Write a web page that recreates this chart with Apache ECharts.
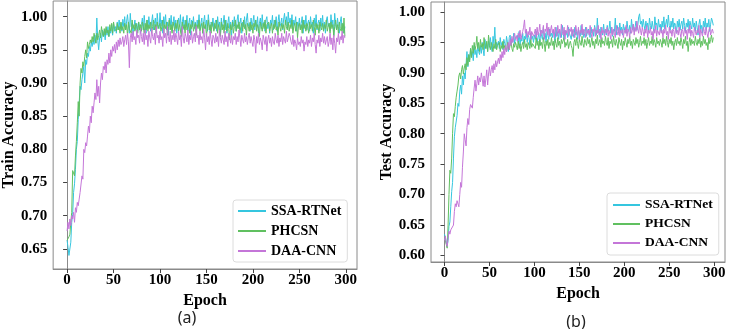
<!DOCTYPE html>
<html>
<head>
<meta charset="utf-8">
<script src="https://cdn.jsdelivr.net/npm/echarts@6/dist/echarts.min.js"></script>
<style>
  html, body { margin: 0; padding: 0; background: #fff; }
  #chart { width: 730px; height: 329px; }
</style>
</head>
<body>
<div id="chart"></div>
<script>
// accuracy values in thousandths, one per epoch
const names = ['SSA-RTNet', 'PHCSN', 'DAA-CNN'];
const colors = ['#35c6df', '#60c060', '#c476d8'];

const trainSSA = [
  663,652,640,638,660,690,702,735,748,770,800,812,845,870,895,890,905,915,925,900,
  935,928,945,940,955,948,962,955,965,958,972,960,998,965,950,968,975,962,980,970,
  978,965,982,972,985,970,980,975,988,972,990,978,985,975,992,980,995,982,990,978,
  996,985,1000,980,992,1003,988,975,1005,985,990,972,985,995,980,990,978,992,985,975,
  988,998,980,1002,985,975,995,982,1000,985,978,992,1003,980,990,998,975,1005,988,982,
  1006,985,995,975,1000,988,1003,980,992,972,998,985,1002,978,990,1000,982,995,975,990,
  998,985,1003,975,992,1000,980,995,985,1002,978,990,998,972,995,985,1000,982,992,978,
  995,985,1003,980,990,998,975,992,1002,982,995,978,1003,988,975,992,985,998,980,990,
  995,978,1000,985,992,972,998,985,990,1002,980,995,975,990,1000,982,992,970,995,985,
  1000,988,978,995,1003,982,990,998,975,992,985,1000,980,995,1005,985,990,978,998,985,
  992,1002,980,995,985,1000,975,990,998,982,1003,985,992,978,995,1000,982,990,975,995,
  988,1002,980,995,985,1000,978,992,1003,985,990,998,980,995,1005,988,1000,982,1007,990,
  998,985,1003,980,995,988,1000,978,992,985,998,982,990,1000,975,995,985,1002,980,990,
  995,978,1000,985,992,975,998,985,1003,980,990,995,978,998,985,1002,980,992,975,995,
  1000,985,990,978,1003,985,995,972,1005,988,980,998,985,975,992,1000,980,990,975,985
];
const trainPHCSN = [
  663,665,668,672,690,705,768,765,760,790,812,840,872,850,900,922,915,932,925,940,
  950,938,962,952,958,965,960,970,962,975,968,960,975,965,972,980,968,985,975,970,
  982,972,985,975,980,970,988,978,990,975,992,982,985,978,990,980,985,975,992,980,
  985,975,990,980,988,972,992,982,985,975,995,982,988,978,990,985,975,992,980,988,
  978,992,985,975,990,980,995,978,988,982,992,975,985,995,980,988,975,992,982,985,
  990,978,985,995,975,988,982,992,972,985,995,980,988,975,992,985,978,990,982,995,
  978,988,985,970,992,982,988,975,995,980,985,990,975,988,982,993,978,985,990,972,
  988,982,995,978,985,990,975,992,982,988,970,985,995,980,988,975,992,985,978,990,
  982,995,975,988,985,970,992,980,988,975,995,985,978,990,982,965,988,980,992,975,
  985,995,978,988,982,992,975,985,990,978,995,982,988,972,990,985,978,992,980,988,
  975,990,985,995,978,988,982,970,992,985,978,990,982,995,975,988,985,992,978,985,
  990,975,988,982,995,980,985,972,992,985,978,990,982,988,975,995,985,980,992,978,
  988,982,995,975,985,990,978,992,968,985,990,980,988,975,995,982,988,978,990,985,
  975,992,982,988,978,995,985,972,990,982,988,975,992,985,980,990,978,988,982,995,
  978,985,990,975,992,982,988,970,985,995,980,988,975,992,982,978,990,975,998,970
];
const trainDAA = [
  677,690,680,695,685,700,695,705,690,712,705,720,715,725,735,735,760,755,800,795,
  810,805,820,835,825,850,840,865,855,870,885,875,905,880,895,870,900,915,905,925,
  920,932,915,935,928,945,930,950,940,955,948,958,945,962,950,965,955,968,958,962,
  970,955,965,972,958,975,962,923,968,975,962,978,965,970,958,980,968,972,960,982,
  970,962,975,958,980,965,972,955,978,968,960,982,970,965,975,958,985,968,972,960,
  978,965,970,955,982,968,975,960,985,970,962,978,958,972,965,980,962,975,968,958,
  978,965,972,955,985,968,960,975,970,962,980,958,972,965,978,960,970,975,962,985,
  968,972,958,978,965,970,960,982,968,950,975,962,970,958,978,965,955,972,968,960,
  975,962,970,955,980,968,960,972,965,958,978,962,970,955,975,968,960,972,958,970,
  965,975,958,970,962,980,968,955,972,965,960,975,962,970,958,968,975,960,970,962,
  955,972,965,945,970,960,975,958,968,962,950,972,965,958,970,948,965,972,960,968,
  955,970,962,958,975,965,960,972,955,968,962,975,958,970,965,960,978,962,968,975,
  970,962,958,972,955,965,960,950,968,958,962,955,970,960,965,948,962,958,970,955,
  965,960,972,955,968,962,975,958,945,965,960,972,955,968,962,975,960,970,958,965,
  970,955,962,975,958,968,950,972,960,945,968,962,975,958,970,965,978,960,972,968
];

const testSSA = [
  635,630,622,615,625,648,655,680,705,720,760,795,810,808,830,850,845,870,880,865,
  895,880,900,890,915,935,910,930,922,940,928,935,920,945,930,938,925,948,935,930,
  945,932,950,938,928,955,940,948,935,952,942,958,945,935,960,948,975,940,950,945,
  952,940,958,945,950,938,955,948,942,960,950,935,958,962,945,955,950,965,948,958,
  955,962,950,968,945,958,952,965,948,960,955,970,950,962,958,945,965,955,960,950,
  962,955,968,950,958,965,945,970,960,955,975,958,965,950,968,962,955,972,960,965,
  958,970,962,950,975,960,968,955,972,962,958,978,965,955,970,962,968,958,975,965,
  962,955,970,965,958,975,962,968,955,972,965,960,978,962,970,958,965,975,960,968,
  972,962,958,975,965,970,960,978,968,962,990,965,972,958,975,968,962,980,965,970,
  962,978,968,972,985,965,975,960,972,968,990,962,978,970,965,982,968,975,962,980,
  970,975,965,985,972,968,978,965,988,972,980,968,975,985,970,978,992,997,980,985,
  975,988,978,970,985,975,982,968,990,978,972,985,975,968,992,978,982,970,988,975,
  980,968,985,975,992,972,980,988,975,995,978,970,985,975,990,972,982,978,965,985,
  975,988,970,980,985,972,990,978,968,982,975,988,970,985,978,972,990,975,982,968,
  985,975,962,980,988,972,978,965,985,975,990,970,982,975,988,968,980,990,985,978
];
const testPHCSN = [
  630,628,618,612,650,700,740,735,760,800,833,828,845,860,870,880,895,900,890,905,
  912,898,908,915,905,925,912,930,918,940,925,945,932,950,938,945,960,940,950,935,
  955,942,948,938,958,945,940,952,935,962,945,938,950,942,935,948,940,955,938,945,
  942,950,935,945,940,952,938,945,948,935,950,942,938,945,952,940,935,948,942,950,
  945,938,952,940,948,935,945,950,940,955,942,948,938,950,945,940,955,942,948,945,
  950,940,958,945,952,938,955,945,950,940,958,948,935,952,945,955,940,950,945,958,
  945,952,938,955,948,942,958,945,952,940,955,948,945,958,942,950,945,955,940,948,
  952,945,940,927,950,955,945,958,948,940,955,950,945,960,948,942,955,950,945,958,
  948,955,942,950,958,945,952,940,955,948,962,945,950,955,942,958,948,952,945,960,
  950,945,958,940,952,948,955,942,960,950,945,955,948,940,958,950,945,955,938,952,
  945,958,950,942,955,948,960,945,952,940,955,950,945,958,948,955,942,950,960,945,
  952,948,958,945,955,940,950,958,945,952,948,960,945,955,950,942,958,948,952,945,
  955,950,942,958,948,955,945,960,950,942,955,948,958,945,952,938,950,955,945,958,
  948,952,945,958,950,940,955,948,960,945,952,935,950,958,945,955,948,952,945,960,
  950,945,955,948,958,942,952,945,960,948,955,945,950,938,958,948,955,962,950,958
];
const testDAA = [
  625,632,620,615,628,640,635,642,640,645,650,672,685,680,690,692,680,700,720,712,
  745,770,800,790,780,810,825,815,840,848,850,842,860,875,888,870,882,895,880,892,
  885,900,890,878,895,877,890,905,880,898,910,895,905,912,900,915,905,920,910,918,
  924,915,930,920,935,925,940,930,945,935,942,950,938,955,945,960,950,958,965,955,
  960,952,965,958,970,955,962,968,975,987,965,972,958,968,962,975,955,968,970,960,
  965,972,958,975,962,968,980,960,970,965,978,955,972,968,982,962,975,960,970,978,
  965,972,958,975,968,960,978,965,972,958,980,968,962,975,955,970,965,978,960,972,
  968,975,960,972,965,958,978,968,962,975,955,970,965,980,962,972,968,958,975,965,
  970,962,978,965,958,972,968,975,960,970,965,978,962,968,955,975,965,970,960,972,
  965,975,960,970,968,955,975,962,972,965,958,978,968,962,975,960,970,965,972,958,
  970,965,978,960,972,968,958,975,965,970,980,962,975,968,985,972,965,978,970,962,
  975,968,960,972,965,978,958,970,965,975,962,968,955,972,965,978,960,970,968,962,
  975,965,970,958,972,965,978,962,968,955,975,965,970,960,972,968,958,975,965,970,
  962,975,965,958,972,968,960,975,965,970,955,972,965,978,960,970,965,958,975,968,
  962,970,965,978,958,972,965,960,975,968,962,975,965,958,970,975,962,968,972,965
];

const xTicks = [0, 50, 100, 150, 200, 250, 300];
const yTicksTrain = [0.65, 0.70, 0.75, 0.80, 0.85, 0.90, 0.95, 1.00];
const yTicksTest = [0.60, 0.65, 0.70, 0.75, 0.80, 0.85, 0.90, 0.95, 1.00];

const serif = '"Liberation Serif", "Times New Roman", serif';
const labelFont = { fontFamily: serif, fontWeight: 'bold', fontSize: 15, color: '#000' };

function toPoints(arr) {
  return arr.map((v, i) => [i, v / 1000]);
}

// show a label only where it is one of the listed tick values
function onlyTicks(ticks, digits) {
  return v => ticks.some(t => Math.abs(t - v) < 1e-6) ? v.toFixed(digits) : '';
}

function xAxisFor(gridIndex, gap) {
  return {
    type: 'value', gridIndex: gridIndex, min: -15, max: 312, splitNumber: 6,
    name: 'Epoch', nameLocation: 'middle', nameGap: gap,
    nameTextStyle: { fontFamily: serif, fontWeight: 'bold', fontSize: 16, color: '#000' },
    axisLine: { show: true, lineStyle: { color: '#8a8a8a', width: 1 } },
    axisTick: { show: true, length: 4, customValues: xTicks, lineStyle: { color: '#444' } },
    axisLabel: Object.assign({
      margin: 4, showMinLabel: false, showMaxLabel: false, formatter: onlyTicks(xTicks, 0)
    }, labelFont),
    splitLine: { show: false }
  };
}

function yAxisFor(gridIndex, min, max, ticks, title) {
  return {
    type: 'value', gridIndex: gridIndex, min: min, max: max, splitNumber: 8,
    name: title, nameLocation: 'middle', nameGap: 33, nameRotate: 90,
    nameTextStyle: { fontFamily: serif, fontWeight: 'bold', fontSize: 16, color: '#000' },
    axisLine: { show: true, lineStyle: { color: '#8a8a8a', width: 1 } },
    axisTick: { show: true, length: 4, customValues: ticks, lineStyle: { color: '#444' } },
    axisLabel: Object.assign({
      margin: 6, showMinLabel: false, showMaxLabel: false, formatter: onlyTicks(ticks, 2)
    }, labelFont),
    splitLine: { show: false }
  };
}

const panels = [
  [trainSSA, trainPHCSN, trainDAA],
  [testSSA, testPHCSN, testDAA]
];
const series = [];
panels.forEach((group, g) => {
  group.forEach((arr, k) => {
    series.push({
      name: names[k], type: 'line', xAxisIndex: g, yAxisIndex: g,
      data: toPoints(arr), showSymbol: false, symbol: 'none',
      lineStyle: { color: colors[k], width: 1 },
      itemStyle: { color: colors[k] },
      animation: false
    });
  });
});

const legendBase = {
  orient: 'vertical', icon: 'rect', itemHeight: 2, data: names,
  backgroundColor: '#fff', borderColor: '#dcdcdc', borderWidth: 1, borderRadius: 3,
  selectedMode: false
};

const myChart = echarts.init(document.getElementById('chart'));
myChart.setOption({
  animation: false,
  grid: [
    { left: 49, top: 1, width: 308, height: 268, show: true, borderColor: '#8a8a8a', borderWidth: 1 },
    { left: 431, top: 2, width: 294, height: 260, show: true, borderColor: '#8a8a8a', borderWidth: 1 }
  ],
  xAxis: [xAxisFor(0, 18), xAxisFor(1, 15)],
  yAxis: [
    yAxisFor(0, 0.6196, 1.0236, yTicksTrain, 'Train Accuracy'),
    yAxisFor(1, 0.5893, 1.0164, yTicksTest, 'Test Accuracy')
  ],
  legend: [
    Object.assign({}, legendBase, {
      left: 233, top: 200, itemWidth: 28, itemGap: 6, itemTextGap: 9, padding: [4, 6, 4, 5],
      textStyle: { fontFamily: serif, fontWeight: 'bold', fontSize: 14, color: '#000' }
    }),
    Object.assign({}, legendBase, {
      left: 607, top: 193, itemWidth: 27, itemGap: 5, itemTextGap: 10, padding: [5, 6, 5, 6],
      textStyle: { fontFamily: serif, fontWeight: 'bold', fontSize: 13.5, color: '#000' }
    })
  ],
  graphic: [
    { type: 'text', x: 187, y: 318, style: { text: '(a)', align: 'center', verticalAlign: 'middle', font: '16px "Noto Sans", sans-serif', fill: '#222' } },
    { type: 'text', x: 576, y: 322, style: { text: '(b)', align: 'center', verticalAlign: 'middle', font: '16px "Noto Sans", sans-serif', fill: '#222' } }
  ],
  series: series
});
</script>
</body>
</html>
